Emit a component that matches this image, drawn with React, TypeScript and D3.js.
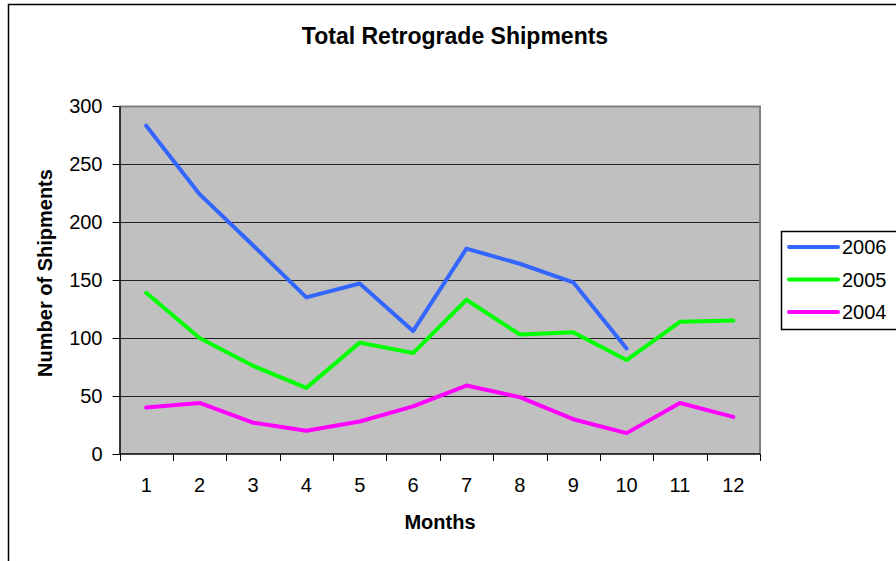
import React, { useEffect, useRef } from 'react';
import * as d3 from 'd3';

const months = [1, 2, 3, 4, 5, 6, 7, 8, 9, 10, 11, 12];
const series2006 = [283, 224, 180, 135, 147, 106, 177, 164, 148, 91, null, null];
const series2005 = [139, 100, 76, 57, 96, 87, 133, 103, 105, 81, 114, 115];
const series2004 = [40, 44, 27, 20, 28, 41, 59, 49, 30, 18, 44, 32];
const seriesNames = ['2006', '2005', '2004'];
const seriesColors = ['#3366FF', '#00FF00', '#FF00FF'];
const yTicks = [0, 50, 100, 150, 200, 250, 300];

const App: React.FC = () => {
  const svgRef = useRef<SVGSVGElement>(null);

  useEffect(() => {
    if (!svgRef.current) return;
    d3.select(svgRef.current).selectAll('*').remove();

    const width = 896;
    const height = 561;
    const plot = { left: 119.5, top: 106, right: 760, bottom: 454 };
    const font = 'Arial, "Liberation Sans", sans-serif';

    const svg = d3.select(svgRef.current)
      .attr('width', width)
      .attr('height', height);

    // outer chart frame
    svg.append('rect')
      .attr('x', 8.5).attr('y', 4.5)
      .attr('width', 900).attr('height', 600)
      .attr('fill', '#fff')
      .attr('stroke', '#000')
      .attr('stroke-width', 1.5);

    const x = d3.scaleBand<number>()
      .domain(months)
      .range([plot.left, plot.right]);

    const y = d3.scaleLinear()
      .domain([0, 300])
      .range([plot.bottom, plot.top]);

    // plot area
    svg.append('rect')
      .attr('x', plot.left).attr('y', plot.top)
      .attr('width', plot.right - plot.left)
      .attr('height', plot.bottom - plot.top)
      .attr('fill', '#C0C0C0');

    // gridlines
    svg.selectAll('.grid')
      .data(yTicks.filter(t => t > 0 && t < 300))
      .enter()
      .append('line')
      .attr('x1', plot.left).attr('x2', plot.right)
      .attr('y1', d => Math.round(y(d)) + 0.5)
      .attr('y2', d => Math.round(y(d)) + 0.5)
      .attr('stroke', '#222')
      .attr('stroke-width', 1);

    // top and right border of plot area
    svg.append('path')
      .attr('d', `M${plot.left},${plot.top + 0.5}H${plot.right}V${plot.bottom}`)
      .attr('fill', 'none')
      .attr('stroke', '#808080')
      .attr('stroke-width', 2);

    // y axis
    const yAxis = svg.append('g')
      .attr('transform', `translate(${plot.left},0)`)
      .call(d3.axisLeft(y).tickValues(yTicks).tickSizeOuter(0).tickSizeInner(7).tickPadding(10));
    yAxis.select('.domain').attr('stroke', '#000').attr('stroke-width', 1.5);
    yAxis.selectAll('.tick line').attr('stroke', '#000');
    yAxis.selectAll('.tick text')
      .attr('font-family', font)
      .attr('font-size', 20)
      .attr('fill', '#000');

    // x axis
    const xAxis = svg.append('g')
      .attr('transform', `translate(0,${plot.bottom})`);
    xAxis.append('line')
      .attr('x1', plot.left).attr('x2', plot.right)
      .attr('y1', 0).attr('y2', 0)
      .attr('stroke', '#000').attr('stroke-width', 1.5);
    const edges = months.map(m => x(m) as number).concat([plot.right]);
    xAxis.selectAll('.xtick')
      .data(edges)
      .enter()
      .append('line')
      .attr('x1', d => Math.round(d) + 0.5).attr('x2', d => Math.round(d) + 0.5)
      .attr('y1', 0).attr('y2', 7)
      .attr('stroke', '#000');
    xAxis.selectAll('.xlabel')
      .data(months)
      .enter()
      .append('text')
      .attr('x', d => (x(d) as number) + x.bandwidth() / 2)
      .attr('y', 38)
      .attr('text-anchor', 'middle')
      .attr('font-family', font)
      .attr('font-size', 20)
      .text(d => String(d));

    // titles
    svg.append('text')
      .attr('x', 455).attr('y', 44)
      .attr('text-anchor', 'middle')
      .attr('font-family', font)
      .attr('font-size', 23)
      .attr('font-weight', 'bold')
      .text('Total Retrograde Shipments');

    svg.append('text')
      .attr('x', 440).attr('y', 529)
      .attr('text-anchor', 'middle')
      .attr('font-family', font)
      .attr('font-size', 20)
      .attr('font-weight', 'bold')
      .text('Months');

    svg.append('text')
      .attr('transform', 'translate(52,273) rotate(-90)')
      .attr('text-anchor', 'middle')
      .attr('font-family', font)
      .attr('font-size', 20)
      .attr('font-weight', 'bold')
      .text('Number of Shipments');

    // lines
    const allSeries = [series2006, series2005, series2004];
    const line = d3.line<number | null>()
      .defined(d => d !== null)
      .x((d, i) => (x(months[i]) as number) + x.bandwidth() / 2)
      .y(d => y(d as number));

    allSeries.forEach((s, i) => {
      svg.append('path')
        .datum(s)
        .attr('d', line)
        .attr('fill', 'none')
        .attr('stroke', seriesColors[i])
        .attr('stroke-width', 4)
        .attr('stroke-linejoin', 'round')
        .attr('stroke-linecap', 'round');
    });

    // legend
    const legend = svg.append('g').attr('transform', 'translate(781,231)');
    legend.append('rect')
      .attr('x', 0.5).attr('y', 0.5)
      .attr('width', 130).attr('height', 98)
      .attr('fill', '#fff')
      .attr('stroke', '#000')
      .attr('stroke-width', 1.5);
    const rows = legend.selectAll('.row')
      .data(seriesNames)
      .enter()
      .append('g')
      .attr('transform', (d, i) => `translate(0,${16 + i * 32.5})`);
    rows.append('line')
      .attr('x1', 8).attr('x2', 57)
      .attr('y1', 0).attr('y2', 0)
      .attr('stroke', (d, i) => seriesColors[i])
      .attr('stroke-width', 4)
      .attr('stroke-linecap', 'round');
    rows.append('text')
      .attr('x', 61).attr('y', 7)
      .attr('font-family', font)
      .attr('font-size', 20)
      .text(d => d);
  }, []);

  return (
    <svg ref={svgRef} style={{ position: 'absolute', left: 0, top: 0, display: 'block' }}></svg>
  );
};

export default App;
